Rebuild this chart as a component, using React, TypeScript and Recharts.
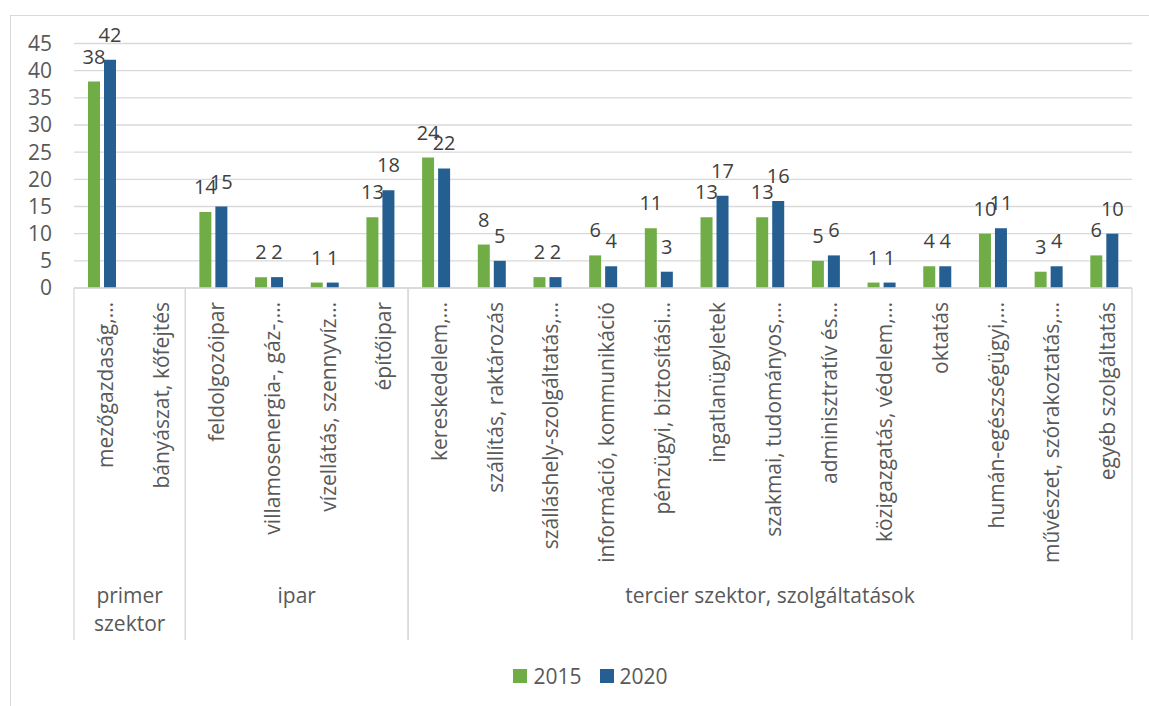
import React from 'react';
import { BarChart, Bar, XAxis, YAxis, CartesianGrid, Legend, LabelList } from 'recharts';

// ---- data ----
const categories = [
  'mezőgazdaság,…',
  'bányászat, kőfejtés',
  'feldolgozóipar',
  'villamosenergia-, gáz-,…',
  'vízellátás, szennyvíz…',
  'építőipar',
  'kereskedelem,…',
  'szállítás, raktározás',
  'szálláshely-szolgáltatás,…',
  'információ, kommunikáció',
  'pénzügyi, biztosítási…',
  'ingatlanügyletek',
  'szakmai, tudományos,…',
  'adminisztratív és…',
  'közigazgatás, védelem,…',
  'oktatás',
  'humán-egészségügyi,…',
  'művészet, szórakoztatás,…',
  'egyéb szolgáltatás',
];
const values2015 = [38, null, 14, 2, 1, 13, 24, 8, 2, 6, 11, 13, 13, 5, 1, 4, 10, 3, 6];
const values2020 = [42, null, 15, 2, 1, 18, 22, 5, 2, 4, 3, 17, 16, 6, 1, 4, 11, 4, 10];
const groupLabels = [['primer', 'szektor'], ['ipar'], ['tercier szektor, szolgáltatások']];
const groupSizes = [2, 4, 13];
const yTicks = [0, 5, 10, 15, 20, 25, 30, 35, 40, 45];
const seriesNames = ['2015', '2020'];

// ---- layout / style ----
const W = 1149;
const H = 706;
const PLOT_LEFT = 74;
const PLOT_RIGHT = 1132;
const PLOT_TOP = 43.5;
const BAND = (PLOT_RIGHT - PLOT_LEFT) / categories.length;
const FONT = '"Open Sans", sans-serif';
const GREEN = '#70ad47';
const BLUE = '#255e91';
const GRID = '#d9d9d9';
const TEXT = '#595959';

const data = categories.map((name, i) => ({
  name,
  y2015: values2015[i],
  y2020: values2020[i],
}));

function CategoryTick(props: any) {
  const { x, y, payload } = props;
  const i = props.index ?? payload.index;
  const parts: React.ReactNode[] = [];

  parts.push(
    <text
      key="label"
      transform={`translate(${x + 3},${y + 14}) rotate(-90)`}
      textAnchor="end"
      dominantBaseline="central"
      fontSize={21}
      fontFamily={FONT}
      fill={TEXT}
    >
      {payload.value}
    </text>
  );

  // group separators + group names
  let start = 0;
  groupSizes.forEach((size, g) => {
    if (i === start) {
      const left = x - BAND / 2;
      const cx = left + (size * BAND) / 2;
      parts.push(<line key={'l' + g} x1={left} x2={left} y1={y} y2={640} stroke={GRID} strokeWidth={1.3} />);
      parts.push(
        <text key={'g' + g} x={cx} y={603} textAnchor="middle" fontSize={21} fontFamily={FONT} fill={TEXT}>
          {groupLabels[g].map((line, k) => (
            <tspan key={k} x={cx} dy={k === 0 ? 0 : 28}>
              {line}
            </tspan>
          ))}
        </text>
      );
    }
    if (i === start + size - 1) {
      const right = x + BAND / 2;
      parts.push(<line key={'r' + g} x1={right} x2={right} y1={y} y2={640} stroke={GRID} strokeWidth={1.3} />);
    }
    start += size;
  });

  return <g>{parts}</g>;
}

function LegendContent() {
  const colors = [GREEN, BLUE];
  return (
    <div
      style={{
        display: 'flex',
        justifyContent: 'center',
        alignItems: 'center',
        height: 30,
        paddingLeft: 32,
        boxSizing: 'border-box',
        fontFamily: FONT,
        fontSize: 21,
        color: TEXT,
      }}
    >
      {seriesNames.map((s, i) => (
        <div key={s} style={{ display: 'flex', alignItems: 'center', marginRight: i === 0 ? 18 : 0 }}>
          <span style={{ width: 14, height: 14, background: colors[i], marginRight: 6, display: 'inline-block' }} />
          <span>{s}</span>
        </div>
      ))}
    </div>
  );
}

export default function App() {
  return (
    <div
      style={{
        position: 'absolute',
        left: 0,
        top: 0,
        width: W,
        height: H,
        overflow: 'hidden',
        background: '#fff',
      }}
    >
      <div
        style={{
          position: 'absolute',
          left: 10,
          top: 15,
          width: W,
          height: H,
          border: `1.3px solid ${GRID}`,
        }}
      />
      <div style={{ position: 'absolute', left: 0, top: 0 }}>
        <BarChart
          width={W}
          height={H}
          data={data}
          margin={{ top: PLOT_TOP, right: W - PLOT_RIGHT, left: 0, bottom: 15 }}
          barSize={12}
          barGap={4}
        >
          <CartesianGrid vertical={false} stroke={GRID} strokeWidth={1.3} />
          <XAxis
            dataKey="name"
            interval={0}
            height={373}
            tickLine={false}
            tickSize={0}
            tickMargin={0}
            axisLine={{ stroke: GRID, strokeWidth: 1.3 }}
            tick={<CategoryTick />}
          />
          <YAxis
            width={PLOT_LEFT}
            domain={[0, 45]}
            ticks={yTicks}
            interval={0}
            axisLine={false}
            tickLine={false}
            tickMargin={16}
            tick={{ fontSize: 21, fill: TEXT, fontFamily: FONT }}
          />
          <Legend
            verticalAlign="bottom"
            wrapperStyle={{ left: 0, width: W, height: 30 }}
            content={<LegendContent />}
          />
          <Bar dataKey="y2015" name={seriesNames[0]} fill={GREEN} isAnimationActive={false}>
            <LabelList
              dataKey="y2015"
              position="top"
              offset={18}
              fill="#404040"
              fontSize={20}
              fontFamily={FONT}
            />
          </Bar>
          <Bar dataKey="y2020" name={seriesNames[1]} fill={BLUE} isAnimationActive={false}>
            <LabelList
              dataKey="y2020"
              position="top"
              offset={18}
              fill="#404040"
              fontSize={20}
              fontFamily={FONT}
            />
          </Bar>
        </BarChart>
      </div>
    </div>
  );
}
